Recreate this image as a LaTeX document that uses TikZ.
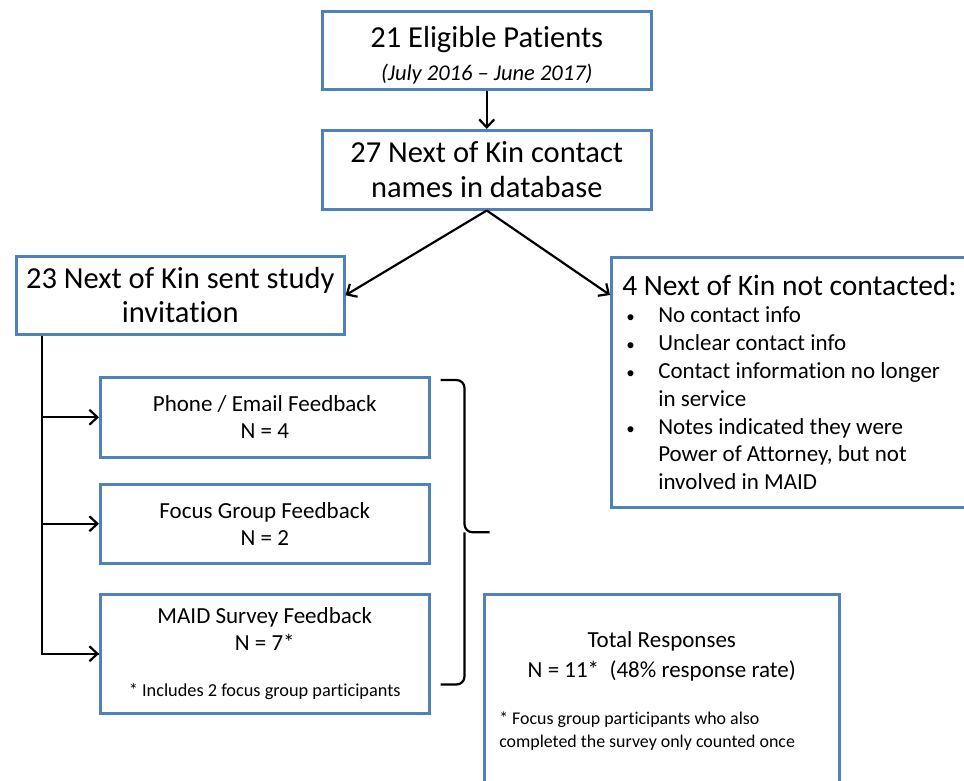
\documentclass[tikz,border=0pt]{standalone}
\usepackage{fontspec}
\setmainfont{Carlito}[Ligatures=NoCommon]
\usetikzlibrary{arrows.meta,calc}

\definecolor{boxblue}{RGB}{79,129,189}

\tikzset{
  box/.style={draw=boxblue, line width=2.5pt, fill=white, anchor=north west,
    inner sep=0pt, align=center},
  big/.style={font=\fontsize{30.5}{35}\selectfont},
  mid/.style={font=\fontsize{23}{27.8}\selectfont},
  link/.style={line width=2.2pt, -{Straight Barb[length=8pt,width=15pt,line width=2.2pt]}},
  plain/.style={line width=2.2pt}
}
\newcommand{\dotitem}{\hspace*{4pt}\makebox[32pt][l]{\fontsize{17}{20}\selectfont\textbullet}}
\newcommand{\dotmore}{\hspace*{36pt}}

\begin{document}
\begin{tikzpicture}[x=1pt, y=-1pt]
  \useasboundingbox (0,0) rectangle (964,780);
  \clip (0,0) rectangle (964,780);

  % top of the flow
  \node (elig) [box, big, minimum width=329pt, text height=69pt, text depth=9pt] at (321,10)
    {21 Eligible Patients\\[-2pt]{\fontsize{22.5}{26}\selectfont\itshape (July 2016 -- June 2017)}};
  \node (kin) [box, big, minimum width=329pt, minimum height=79pt] at (321,129)
    {27 Next of Kin contact\\names in database};
  \node (sent) [box, big, minimum width=328pt, minimum height=78pt] at (15,255)
    {23 Next of Kin sent study\\[-1pt]invitation};
  \node (notc) [box, mid, align=flush left, minimum width=374pt, minimum height=250pt,
    text width=352pt, inner xsep=11pt] at (610,256)
    {{\fontsize{29.5}{35}\selectfont 4 Next of Kin not contacted:}\\
     \dotitem No contact info\\
     \dotitem Unclear contact info\\
     \dotitem Contact information no longer\\
     \dotmore in service\\
     \dotitem Notes indicated they were\\
     \dotmore Power of Attorney, but not\\
     \dotmore involved in MAID};

  % feedback boxes
  \node (phone) [box, mid, minimum width=329pt, minimum height=80pt] at (99,376)
    {Phone / Email Feedback\\[-1pt]N = 4};
  \node (focus) [box, mid, minimum width=329pt, minimum height=79pt] at (99,483)
    {Focus Group Feedback\\[-1pt]N = 2};
  \node (survey) [box, mid, minimum width=329pt, minimum height=119pt] at (99,593)
    {MAID Survey Feedback\\[-1pt]N = 7*\\[18pt]{\fontsize{18.3}{21}\selectfont * Includes 2 focus group participants}};
  \node (total) [box, mid, align=flush left, text width=325pt, inner xsep=15pt, inner ysep=37pt] at (483,593)
    {\makebox[325pt][c]{Total Responses}\\[2pt]
     \makebox[325pt][c]{N = 11*~~(48\% response rate)}\\[20pt]
     {\fontsize{17.9}{23}\selectfont * Focus group participants who also}\\[-5pt]
     {\fontsize{17.9}{23}\selectfont completed the survey only counted once}};

  % connectors
  \draw[link] (elig.south) -- (kin.north);
  \draw[link] (kin.south) -- (sent.east);
  \draw[link] (kin.south) -- ([yshift=-39pt]notc.north west);

  \coordinate (trunk) at ([xshift=27pt]sent.south west);
  \draw[plain] (trunk) |- (survey.west);
  \draw[link] (trunk |- phone.west) -- (phone.west);
  \draw[link] (trunk |- focus.west) -- (focus.west);
  \draw[link] (trunk |- survey.west) -- (survey.west);

  % brace
  \coordinate (brtop) at ([xshift=10pt,yshift=-4pt]phone.north east);
  \coordinate (brbot) at ([xshift=10pt,yshift=30pt]survey.south east);
  \coordinate (brmid) at ($(brtop)!0.5!(brbot)$);
  \draw[plain, rounded corners=8pt] (brtop) -| ([xshift=24pt]brmid) -- ([xshift=49pt]brmid);
  \draw[plain, rounded corners=8pt] ([xshift=24pt]brmid) |- (brbot);
\end{tikzpicture}
\end{document}
